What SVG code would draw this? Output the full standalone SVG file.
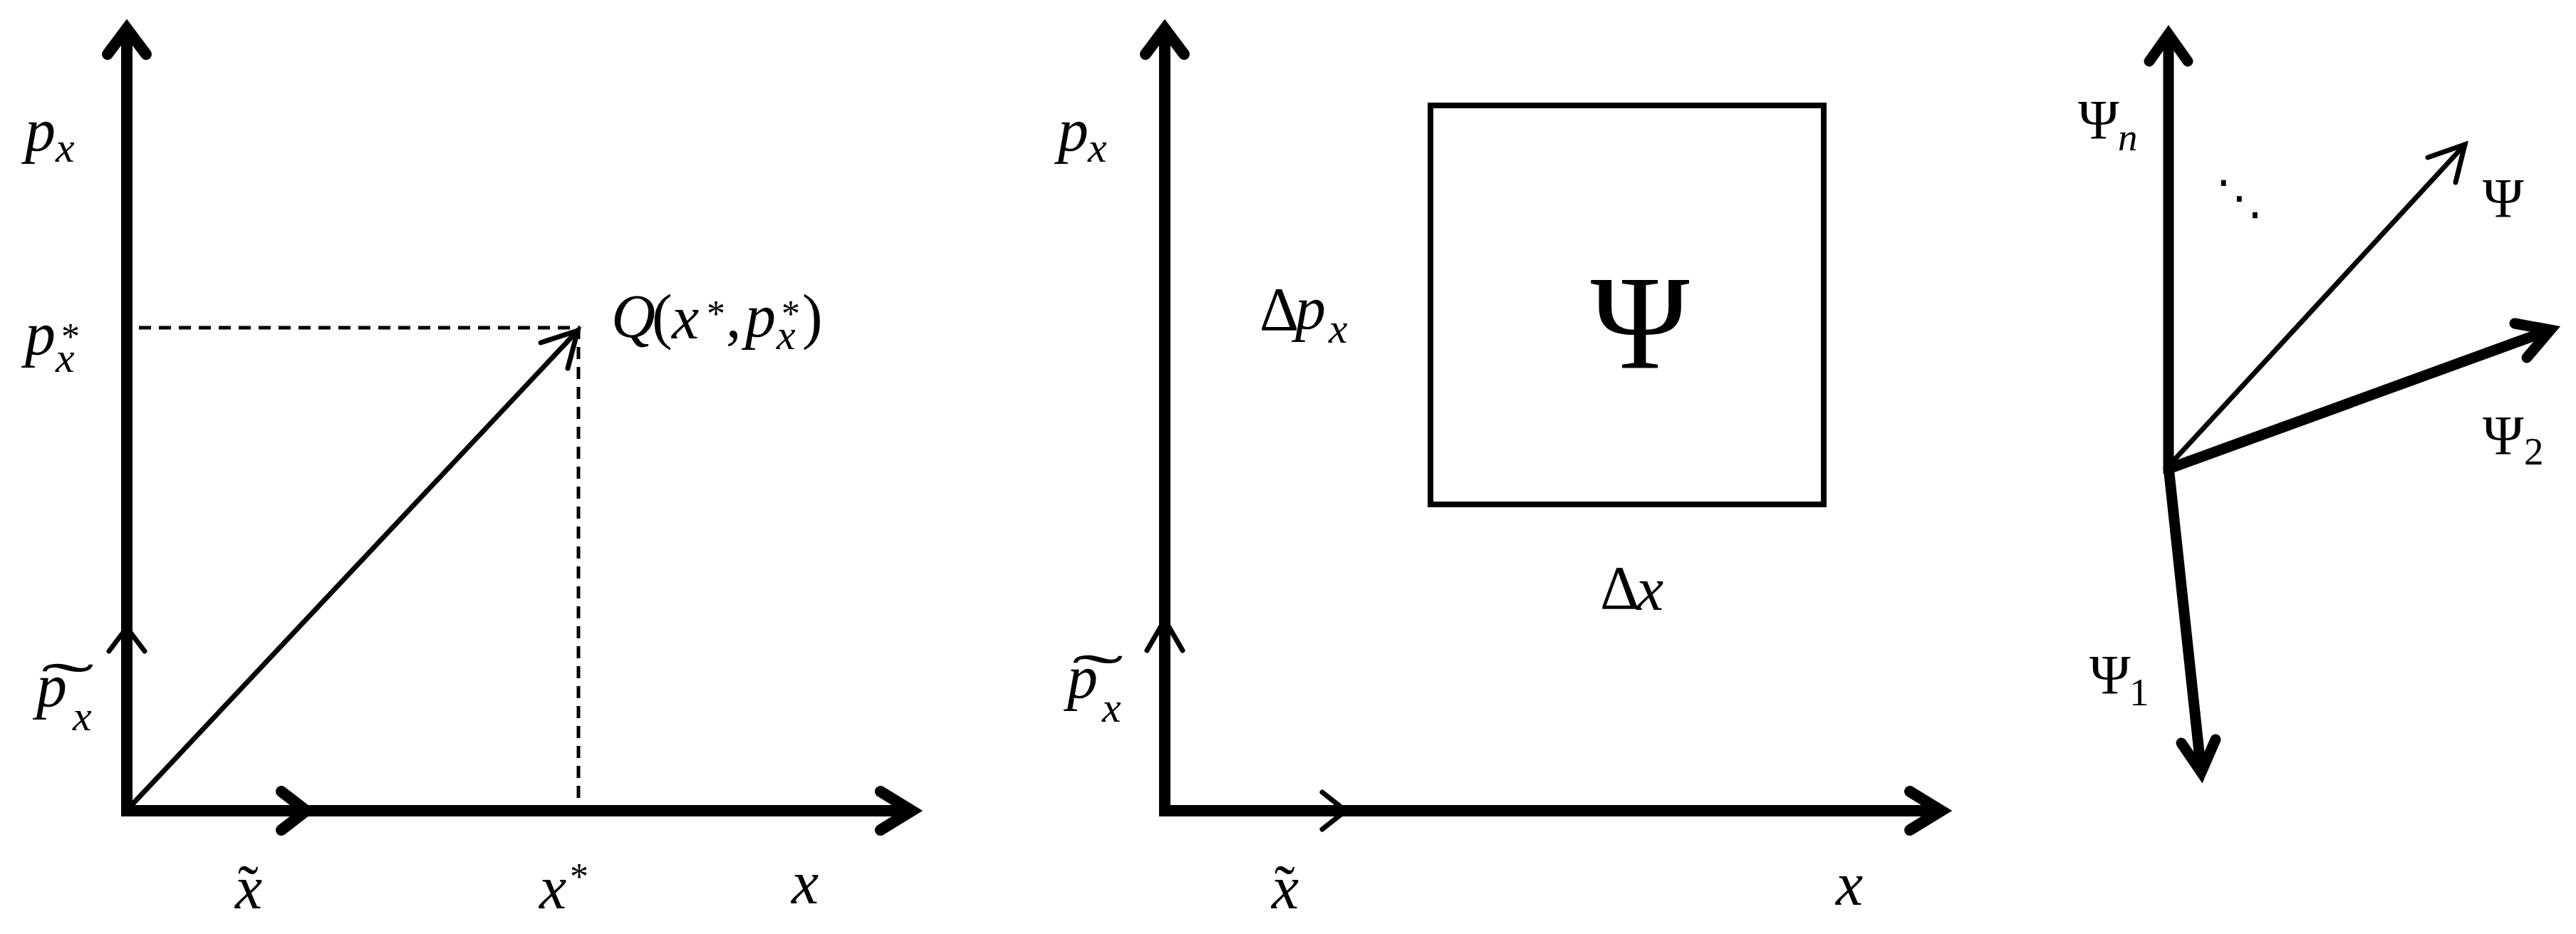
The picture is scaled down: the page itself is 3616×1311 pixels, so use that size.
<svg xmlns="http://www.w3.org/2000/svg" width="3616" height="1311" viewBox="0 0 3616 1311">
<style>
.bg{fill:#fff}
.ax{stroke:#000;stroke-width:16;fill:none;stroke-linejoin:miter;stroke-linecap:butt}
.ax3{stroke:#000;stroke-width:15;fill:none;stroke-linecap:butt}
.hd{stroke:#000;stroke-width:16;fill:none;stroke-linejoin:miter;stroke-linecap:round}
.hd3{stroke:#000;stroke-width:15;fill:none;stroke-linejoin:miter;stroke-linecap:round}
.thin{stroke:#000;stroke-width:7;fill:none;stroke-linejoin:miter;stroke-linecap:round}
.dash{stroke:#000;stroke-width:5;fill:none;stroke-dasharray:17 11}
.box{stroke:#000;stroke-width:8;fill:none}
.t{font-family:"Liberation Serif","Times New Roman",serif;font-size:86px;fill:#000}
.i{font-style:italic}
.s{font-size:60px}
.st{font-size:52px}
.g{font-size:78px}
.gs{font-size:55px}
</style>
<rect class="bg" x="0" y="0" width="3616" height="1311"/>

<g id="connectors">
  <!-- panel 1 -->
  <path class="ax" d="M178 40 V1138 H1280"/>
  <polyline class="hd" points="151,76 178,40 205,76"/>
  <polyline class="hd" points="1236,1111 1280,1138 1236,1165"/>
  <polyline class="hd" points="395,1111 430,1138 395,1165"/>
  <polyline class="thin" points="153,914 178,881 203,914"/>
  <line class="thin" x1="182" y1="1133" x2="811" y2="464"/>
  <polyline class="thin" points="759,481 811,464 797,517"/>
  <path class="dash" d="M195 460 H812 V1130"/>
  <!-- panel 2 -->
  <path class="ax" d="M1635 40 V1138 H2725"/>
  <polyline class="hd" points="1608,76 1635,40 1662,76"/>
  <polyline class="hd" points="2681,1111 2725,1138 2681,1165"/>
  <polyline class="thin" points="1610,913 1635,870 1660,913"/>
  <polyline class="thin" points="1856,1112 1889,1138 1856,1164"/>
  <!-- panel 3 -->
  <line class="ax3" x1="3044" y1="665" x2="3044" y2="48"/>
  <polyline class="hd3" points="3017,86 3044,48 3071,86"/>
  <line class="ax3" x1="3044" y1="655" x2="3090" y2="1084"/>
  <polyline class="hd3" points="3062,1043 3090,1084 3110,1038"/>
  <line class="ax3" x1="3044" y1="658" x2="3580" y2="463"/>
  <polyline class="hd3" points="3530,454 3580,463 3547,502"/>
  <line class="thin" x1="3048" y1="650" x2="3460" y2="203"/>
  <polyline class="thin" points="3408,221 3460,203 3447,256"/>
</g>

<g id="box-psi">
  <rect class="box" x="2008" y="148" width="552" height="560"/>
  <text class="t" x="2302" y="517" text-anchor="middle" style="font-size:188px">Ψ</text>
</g>

<g id="labels-panel1">
  <text class="t"><tspan class="i" x="35" y="211">p</tspan><tspan class="i s" x="78" y="227">x</tspan></text>
  <text class="t"><tspan class="i" x="35" y="497">p</tspan><tspan class="st" x="86" y="490">*</tspan><tspan class="i s" x="78" y="522">x</tspan></text>
  <text class="t"><tspan x="58" y="991" textLength="74" lengthAdjust="spacingAndGlyphs">˜</tspan><tspan class="i" x="51" y="991">p</tspan><tspan class="i s" x="102" y="1025">x</tspan></text>
  <text class="t"><tspan class="i" x="858" y="473">Q</tspan><tspan x="915" y="473">(</tspan><tspan class="i" x="943" y="475">x</tspan><tspan class="st" x="992" y="458">*</tspan><tspan x="1019" y="473">,</tspan><tspan class="i" x="1046" y="472">p</tspan><tspan class="st" x="1097" y="458">*</tspan><tspan class="i s" x="1090" y="490">x</tspan><tspan x="1126" y="473">)</tspan></text>
  <text class="t"><tspan class="i" x="330" y="1275">x</tspan><tspan x="334" y="1275">˜</tspan></text>
  <text class="t"><tspan class="i" x="757" y="1275">x</tspan><tspan class="st" x="800" y="1248">*</tspan></text>
  <text class="t i" x="1111" y="1268">x</text>
</g>

<g id="labels-panel2">
  <text class="t"><tspan class="i" x="1485" y="211">p</tspan><tspan class="i s" x="1527" y="227">x</tspan></text>
  <text class="t"><tspan x="1505" y="979" textLength="72" lengthAdjust="spacingAndGlyphs">˜</tspan><tspan class="i" x="1498" y="979">p</tspan><tspan class="i s" x="1547" y="1013">x</tspan></text>
  <text class="t"><tspan x="1768" y="463">Δ</tspan><tspan class="i" x="1818" y="461">p</tspan><tspan class="i s" x="1865" y="481">x</tspan></text>
  <text class="t"><tspan x="2246" y="854">Δ</tspan><tspan class="i" x="2297" y="856">x</tspan></text>
  <text class="t"><tspan class="i" x="1785" y="1275">x</tspan><tspan x="1789" y="1275">˜</tspan></text>
  <text class="t i" x="2577" y="1270">x</text>
</g>

<g id="labels-panel3">
  <text class="t"><tspan class="g" x="2917" y="194">Ψ</tspan><tspan class="i gs" x="2973" y="211">n</tspan></text>
  <text class="t" x="3143" y="300" text-anchor="middle" style="font-family:'DejaVu Sans',sans-serif;font-size:66px">⋱</text>
  <text class="t g" x="3485" y="304">Ψ</text>
  <text class="t"><tspan class="g" x="3485" y="637">Ψ</tspan><tspan class="gs" x="3543" y="652">2</tspan></text>
  <text class="t"><tspan class="g" x="2933" y="973">Ψ</tspan><tspan class="gs" x="2989" y="990">1</tspan></text>
</g>
</svg>
